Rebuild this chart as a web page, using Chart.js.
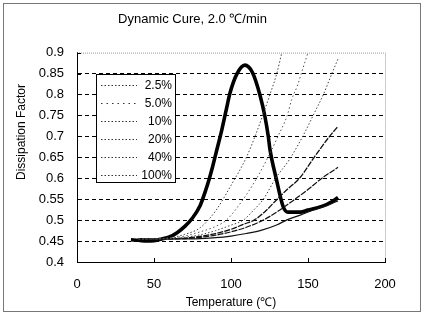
<!DOCTYPE html>
<html>
<head>
<meta charset="utf-8">
<script src="https://cdn.jsdelivr.net/npm/chart.js@4.4.1/dist/chart.umd.min.js"></script>
<style>
  html, body { margin: 0; padding: 0; background: #fff; }
  canvas { display: block; }
</style>
</head>
<body>
<canvas id="cure" width="424" height="323"></canvas>
<script>
// values
const chartTitle = "Dynamic Cure, 2.0 \u2103/min";
const xTitle = "Temperature (\u2103)";
const yTitle = "Dissipation Factor";

const xTicks = [0, 50, 100, 150, 200];
const yTicks = [0.4, 0.45, 0.5, 0.55, 0.6, 0.65, 0.7, 0.75, 0.8, 0.85, 0.9];

// thick curve (no legend entry)
const neatT  = [35, 40, 45, 50, 55, 60, 65, 70, 75, 80, 83, 86, 88, 90.6, 94, 97, 99.4, 103.7, 109, 114, 119, 122, 124.2, 125.3, 129.5, 133.8, 137, 145, 150, 155.6, 162, 166, 169.5];
const neatDF = [0.453, 0.452, 0.45, 0.451, 0.455, 0.46, 0.47, 0.485, 0.505, 0.535, 0.565, 0.6, 0.627, 0.665, 0.715, 0.765, 0.804, 0.848, 0.87, 0.852, 0.796, 0.748, 0.70, 0.669, 0.597, 0.533, 0.519, 0.519, 0.524, 0.529, 0.537, 0.545, 0.554];

const seriesNames = ["2.5%", "5.0%", "10%", "20%", "40%", "100%"];

const c1T  = [40, 50, 60, 70, 80, 90, 100, 110, 115.6, 120.6, 125.3, 129.7, 133];
const c1DF = [0.455, 0.455, 0.458, 0.466, 0.482, 0.522, 0.583, 0.65, 0.70, 0.75, 0.80, 0.85, 0.9];

const c2T  = [40, 50, 60, 70, 80, 90, 97, 108, 116.7, 124, 130.5, 136.5, 139.4, 143, 146.5, 150];
const c2DF = [0.455, 0.455, 0.457, 0.462, 0.472, 0.485, 0.5, 0.55, 0.6, 0.65, 0.7, 0.75, 0.788, 0.82, 0.86, 0.9];

const c3T  = [40, 50, 60, 70, 80, 90, 100, 108, 115, 121, 129, 138, 148, 154, 160, 165.5, 169.5];
const c3DF = [0.455, 0.455, 0.456, 0.459, 0.465, 0.475, 0.488, 0.5, 0.525, 0.55, 0.6, 0.645, 0.71, 0.755, 0.8, 0.85, 0.885];

const c4T  = [40, 50, 60, 70, 80, 90, 100, 108, 115, 122, 130, 137, 144.5, 154, 164, 169.5];
const c4DF = [0.455, 0.455, 0.455, 0.457, 0.461, 0.468, 0.478, 0.49, 0.5, 0.52, 0.55, 0.575, 0.6, 0.65, 0.7, 0.724];

const c5T  = [40, 50, 60, 70, 80, 90, 100, 110, 121, 130, 141.6, 150, 159, 169.5];
const c5DF = [0.455, 0.455, 0.455, 0.456, 0.459, 0.464, 0.472, 0.483, 0.5, 0.52, 0.55, 0.573, 0.6, 0.626];

const c6T  = [40, 50, 60, 70, 80, 90, 100, 110, 120, 130, 136, 145, 155, 163, 169.5];
const c6DF = [0.455, 0.455, 0.455, 0.455, 0.456, 0.458, 0.462, 0.468, 0.476, 0.489, 0.5, 0.512, 0.526, 0.536, 0.546];

function pts(xs, ys) {
    return xs.map((x, i) => ({ x: x, y: ys[i] }));
}

const font = "'Liberation Sans', Arial, Helvetica, sans-serif";

const thin = [
    { t: c1T, d: c1DF, dash: [1.5, 2], color: "#444", w: 1 },
    { t: c2T, d: c2DF, dash: [1.5, 2.5], color: "#555", w: 1 },
    { t: c3T, d: c3DF, dash: [1.5, 2], color: "#444", w: 1 },
    { t: c4T, d: c4DF, dash: [6, 1.2], color: "#111", w: 1.3 },
    { t: c5T, d: c5DF, dash: [6, 1.2], color: "#111", w: 1.2 },
    { t: c6T, d: c6DF, dash: [], color: "#111", w: 1.2 }
];

const datasets = thin.map((s, i) => ({
    label: seriesNames[i],
    data: pts(s.t, s.d),
    borderColor: s.color,
    borderWidth: s.w,
    borderDash: s.dash,
    pointRadius: 0,
    cubicInterpolationMode: "monotone",
    fill: false
}));
datasets.push({
    label: "neat",
    data: pts(neatT, neatDF),
    borderColor: "#000",
    borderWidth: 3.6,
    pointRadius: 0,
    cubicInterpolationMode: "monotone",
    fill: false
});

// frame, plot border, inward ticks, y title, legend box
const decor = {
    id: "decor",
    beforeDraw(chart) {
        const c = chart.ctx;
        c.save();
        c.fillStyle = "#fff";
        c.fillRect(0, 0, chart.width, chart.height);
        c.strokeStyle = "#777";
        c.lineWidth = 1;
        c.strokeRect(3.5, 3.5, 417, 308);
        c.restore();
    },
    afterDraw(chart) {
        const c = chart.ctx;
        const a = chart.chartArea;
        const xs = chart.scales.x, ys = chart.scales.y;
        c.save();
        // top and right plot border, dotted grey
        c.strokeStyle = "#999";
        c.lineWidth = 1;
        c.setLineDash([1, 1]);
        c.beginPath();
        c.moveTo(a.left, a.top + 0.5);
        c.lineTo(a.right + 0.5, a.top + 0.5);
        c.lineTo(a.right + 0.5, a.bottom);
        c.stroke();
        c.setLineDash([]);
        // inward tick marks
        c.strokeStyle = "#000";
        xTicks.forEach(v => {
            const px = Math.round(xs.getPixelForValue(v)) + 0.5;
            c.beginPath();
            c.moveTo(px, a.bottom);
            c.lineTo(px, a.bottom - 4);
            c.stroke();
        });
        yTicks.forEach(v => {
            const py = Math.round(ys.getPixelForValue(v)) + 0.5;
            c.beginPath();
            c.moveTo(a.left, py);
            c.lineTo(a.left + 4, py);
            c.stroke();
        });
        // y axis title
        c.fillStyle = "#000";
        c.font = "12px " + font;
        c.textAlign = "center";
        c.textBaseline = "middle";
        c.translate(22, 132);
        c.rotate(-Math.PI / 2);
        c.fillText(yTitle, 0, 0);
        c.restore();

        // legend
        c.save();
        const bx = 96.5, by = 74.5, bw = 79, bh = 108;
        c.fillStyle = "#fff";
        c.fillRect(bx, by, bw, bh);
        c.strokeStyle = "#000";
        c.lineWidth = 1;
        c.strokeRect(bx, by, bw, bh);
        c.font = "12px " + font;
        c.textAlign = "right";
        c.textBaseline = "middle";
        seriesNames.forEach((name, i) => {
            const y = 85.5 + i * 18;
            c.strokeStyle = "#333";
            c.setLineDash(i === 1 ? [1.5, 4] : [1.5, 2]);
            c.beginPath();
            c.moveTo(101, y);
            c.lineTo(137, y);
            c.stroke();
            c.setLineDash([]);
            c.fillStyle = "#000";
            c.fillText(name, 172, y + 0.5);
        });
        c.restore();
    }
};

const chart = new Chart(document.getElementById("cure").getContext("2d"), {
    type: "line",
    data: { datasets },
    plugins: [decor],
    options: {
        responsive: false,
        animation: false,
        devicePixelRatio: 1,
        layout: { padding: { left: 0, right: 39, top: 0, bottom: 0 } },
        plugins: {
            legend: { display: false },
            tooltip: { enabled: false },
            title: {
                display: true,
                text: chartTitle,
                color: "#000",
                font: { family: font, size: 13, weight: "normal" },
                padding: { top: 12, bottom: 25 }
            }
        },
        scales: {
            x: {
                type: "linear",
                min: 0,
                max: 200,
                afterFit: s => { s.height = 61; },
                afterBuildTicks: s => { s.ticks = xTicks.map(v => ({ value: v })); },
                ticks: { color: "#000", padding: 15, font: { family: font, size: 13 } },
                grid: { display: false, drawTicks: false },
                border: { display: true, color: "#000", width: 1 },
                title: {
                    display: true,
                    text: xTitle,
                    color: "#000",
                    font: { family: font, size: 12 },
                    padding: { top: 0, bottom: 13 }
                }
            },
            y: {
                min: 0.4,
                max: 0.9,
                afterFit: s => { s.width = 77; },
                afterBuildTicks: s => { s.ticks = yTicks.map(v => ({ value: v })); },
                ticks: {
                    color: "#000",
                    padding: 13,
                    font: { family: font, size: 13 },
                    callback: v => String(Math.round(v * 100) / 100)
                },
                grid: {
                    drawTicks: false,
                    color: ctx => (ctx.tick && (ctx.tick.value <= 0.4 || ctx.tick.value >= 0.9)) ? "rgba(0,0,0,0)" : "#000",
                    lineWidth: 1
                },
                border: { display: true, color: "#000", width: 1, dash: [4, 3] },
                title: { display: false }
            }
        }
    }
});
</script>
</body>
</html>
